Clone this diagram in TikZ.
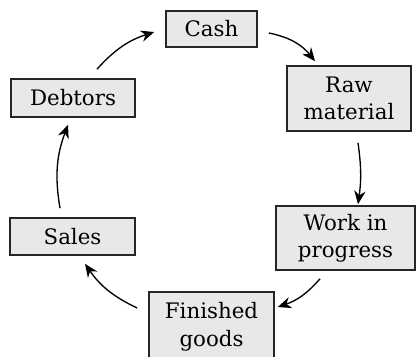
\documentclass[tikz,border=0pt]{standalone}
\usepackage{fontspec}
\setmainfont{DejaVu Serif}
\usetikzlibrary{arrows.meta}

\tikzstyle{every node}=[font=\fontsize{16}{20.5}\selectfont, inner sep=0pt, align=center]
\tikzstyle{box}=[draw=black!85, fill=black!9, line width=1.2pt]
\tikzstyle{flow}=[line width=1pt, -{Stealth[length=10pt, width=8.5pt]}]

\begin{document}
\begin{tikzpicture}[x=0.75pt, y=0.75pt]
  \useasboundingbox (0,0) rectangle (416,-356);
  % the six stages of the cycle
  \node[box, minimum width=68.25pt, minimum height=27pt] (cash) at (211.5,-29) {Cash};
  \node[box, minimum width=93pt, minimum height=48.75pt] (raw) at (349,-98.5) {Raw\\material};
  \node[box, minimum width=104.25pt, minimum height=48pt] (wip) at (345.5,-238) {Work in\\progress};
  \node[box, minimum width=93.75pt, minimum height=52pt] (finished) at (211.5,-326.7) {Finished\\goods};
  \node[box, minimum width=93.75pt, minimum height=27.75pt] (sales) at (72.5,-236.5) {Sales};
  \node[box, minimum width=93pt, minimum height=28.5pt] (debtors) at (73,-98) {Debtors};
  % arrows round the cycle
  \draw[flow] ([shift={(11,-4)}]cash.east) to[bend left=20] ([shift={(-34,4)}]raw.north);
  \draw[flow] ([shift={(9,-11)}]raw.south) to[bend left=8] ([shift={(12.5,1)}]wip.north);
  \draw[flow] ([shift={(-25.5,-8)}]wip.south) to[bend left=15] ([shift={(3,19.7)}]finished.east);
  \draw[flow] ([shift={(-11,18.7)}]finished.west) to[bend left=15] ([shift={(12.5,-8)}]sales.south);
  \draw[flow] ([shift={(-12.5,9)}]sales.north) to[bend left=15] ([shift={(-5,-7)}]debtors.south);
  \draw[flow] ([shift={(24,9)}]debtors.north) to[bend left=15] ([shift={(-11,-3)}]cash.west);
\end{tikzpicture}
\end{document}
